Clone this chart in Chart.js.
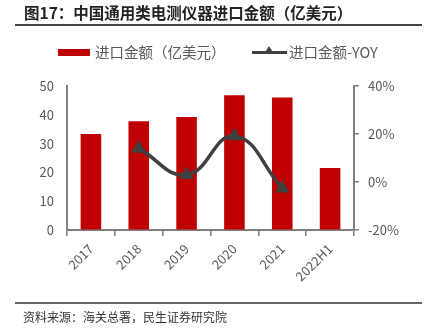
<!DOCTYPE html>
<html>
<head>
<meta charset="utf-8">
<script src="https://cdn.jsdelivr.net/npm/chart.js@4/dist/chart.umd.min.js"></script>
<style>
  html, body { margin:0; padding:0; background:#fff; }
  #wrap { position:relative; width:424px; height:334px; overflow:hidden; font-family:"Noto Sans CJK SC","Noto Sans",sans-serif; }
  #title { position:absolute; left:24px; top:2px; font-size:15.5px; font-weight:bold; color:#222; white-space:nowrap; line-height:20px; }
  #legend { position:absolute; top:42px; left:0; width:424px; height:20px; font-size:14.5px; color:#595959; }
  .lg { position:absolute; top:0; line-height:20px; white-space:nowrap; }
  #lbox { position:absolute; left:58px; top:7px; width:32px; height:7px; background:#C00000; }
  #lline { position:absolute; left:252px; top:9px; width:35px; height:3px; background:#404040; }
  #ltri { position:absolute; left:264px; top:4px; width:0; height:0; border-left:5px solid transparent; border-right:5px solid transparent; border-bottom:8px solid #404040; }
  #footer { position:absolute; left:23px; top:309px; font-size:12px; color:#333; white-space:nowrap; line-height:16px; }
  #chartBox { position:absolute; left:0; top:0; width:424px; height:334px; }
</style>
</head>
<body>
<div id="wrap">
  <div id="chartBox"><canvas id="c" width="424" height="334"></canvas></div>
  <div id="title">图17：中国通用类电测仪器进口金额（亿美元）</div>
  <div id="legend">
    <div id="lbox"></div>
    <div class="lg" style="left:95px;">进口金额（亿美元）</div>
    <div id="lline"></div><div id="ltri"></div>
    <div class="lg" style="left:289px;">进口金额-YOY</div>
  </div>
  <div id="footer">资料来源：海关总署，民生证券研究院</div>
</div>
<script>
const categories = ['2017', '2018', '2019', '2020', '2021', '2022H1'];
const importValue = [33.3, 37.8, 39.2, 46.8, 46.0, 21.5];
const importYoY = [null, 14.0, 3.0, 19.2, -2.6, null];
const leftTicks = [0, 10, 20, 30, 40, 50];
const rightTicks = [-20, 0, 20, 40];

const axisColor = '#808080';
const tickFont = { family: '"Noto Sans CJK SC","Noto Sans",sans-serif', size: 13 };

const rulesPlugin = {
  id: 'rules',
  afterDraw(chart) {
    const ctx = chart.ctx;
    ctx.save();
    ctx.fillStyle = '#444';
    ctx.fillRect(15, 24, 407, 2);
    ctx.fillStyle = '#666';
    ctx.fillRect(15, 302, 407, 2);
    ctx.restore();
  }
};

new Chart(document.getElementById('c'), {
  data: {
    labels: categories,
    datasets: [
      {
        type: 'line',
        label: '进口金额-YOY',
        data: importYoY,
        yAxisID: 'y1',
        borderColor: '#404040',
        backgroundColor: '#404040',
        borderWidth: 3.5,
        tension: 0.45,
        pointStyle: 'triangle',
        pointRadius: 5,
        pointBackgroundColor: '#404040',
        pointBorderColor: '#404040',
        spanGaps: false,
        order: 0
      },
      {
        type: 'bar',
        label: '进口金额（亿美元）',
        data: importValue,
        yAxisID: 'y',
        backgroundColor: '#C00000',
        borderColor: '#C00000',
        categoryPercentage: 0.86,
        barPercentage: 0.5,
        order: 1
      }
    ]
  },
  plugins: [rulesPlugin],
  options: {
    responsive: false,
    animation: false,
    devicePixelRatio: 1,
    layout: { padding: { top: 86, left: 0, right: 0, bottom: 0 } },
    plugins: { legend: { display: false }, tooltip: { enabled: false } },
    scales: {
      x: {
        offset: true,
        grid: { offset: true, drawOnChartArea: false, drawTicks: true, tickLength: 6, color: axisColor, lineWidth: 1.5 },
        border: { display: true, color: axisColor, width: 2 },
        ticks: { color: '#595959', font: tickFont, minRotation: 45, maxRotation: 45, padding: 5 },
        afterFit: s => { s.height = 104; }
      },
      y: {
        position: 'left',
        min: 0, max: 50,
        afterBuildTicks: s => { s.ticks = leftTicks.map(v => ({ value: v })); },
        grid: { drawOnChartArea: false, drawTicks: false },
        border: { display: true, color: axisColor, width: 2 },
        ticks: { color: '#595959', font: tickFont, padding: 13 },
        afterFit: s => { s.width = 67; }
      },
      y1: {
        position: 'right',
        min: -20, max: 40,
        afterBuildTicks: s => { s.ticks = rightTicks.map(v => ({ value: v })); },
        grid: { drawOnChartArea: false, drawTicks: true, tickLength: 5, color: axisColor, lineWidth: 1.5 },
        border: { display: true, color: axisColor, width: 2 },
        ticks: { color: '#595959', font: tickFont, padding: 9, callback: v => v + '%' },
        afterFit: s => { s.width = 70; }
      }
    }
  }
});
</script>
</body>
</html>
